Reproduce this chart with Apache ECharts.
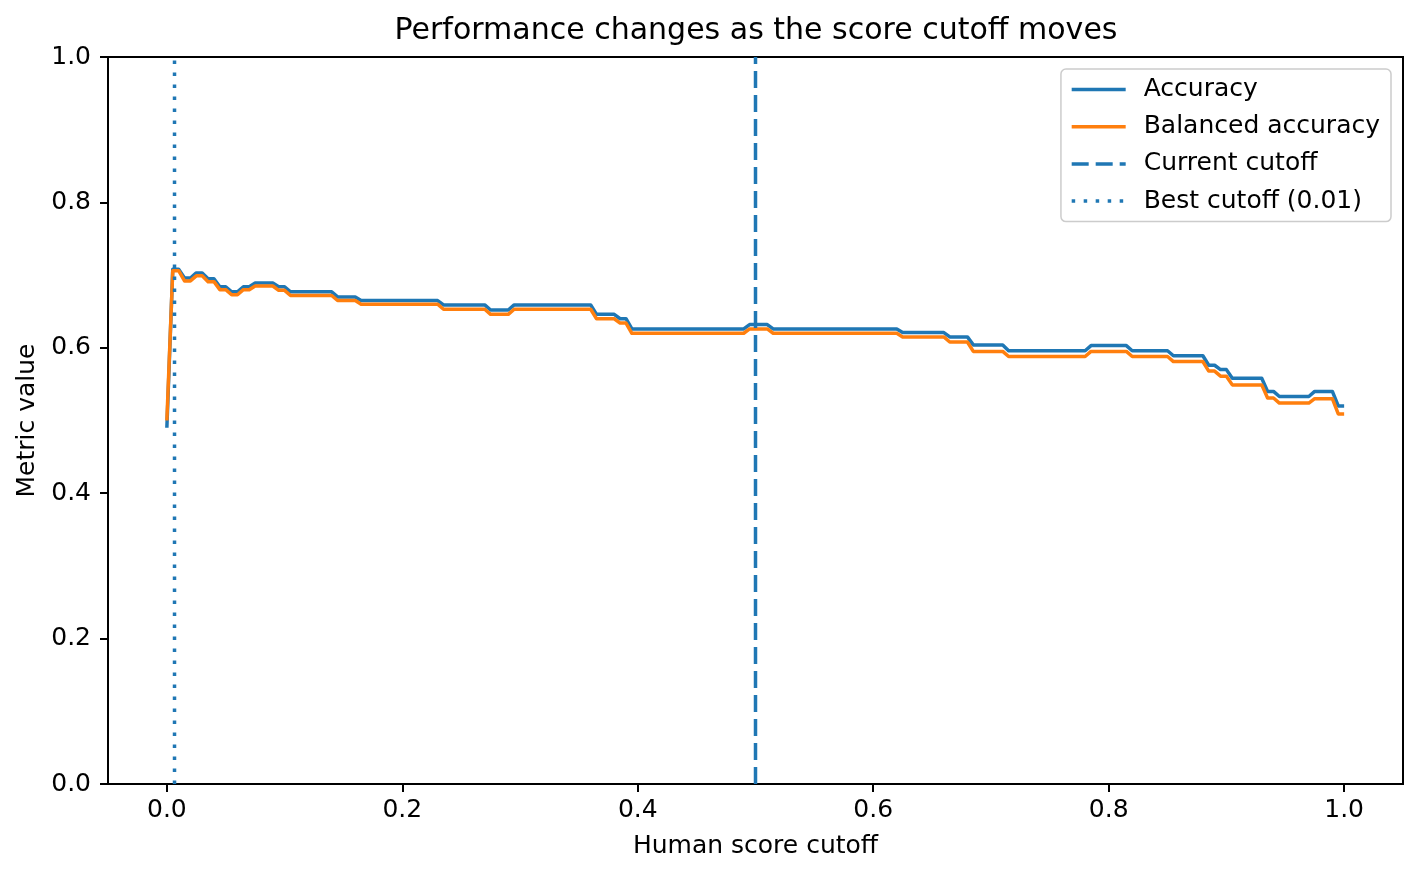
<!DOCTYPE html>
<html>
<head>
<meta charset="utf-8">
<script src="https://cdn.jsdelivr.net/npm/echarts@6/dist/echarts.min.js"></script>
<style>
  html, body { margin: 0; padding: 0; background: #fff; }
  #chart { width: 1421px; height: 877px; }
</style>
</head>
<body>
<div id="chart"></div>
<script>
// cutoff grid points where the curves change (corners of the step-like curves)
const cutoffs = [
  0.000, 0.005, 0.010, 0.015, 0.020, 0.025, 0.030, 0.035, 0.040, 0.045,
  0.050, 0.055, 0.060, 0.065, 0.070, 0.075, 0.090, 0.095, 0.100, 0.105,
  0.140, 0.145, 0.160, 0.165, 0.230, 0.235, 0.270, 0.275, 0.290, 0.295,
  0.360, 0.365, 0.380, 0.385, 0.390, 0.395, 0.490, 0.495, 0.510, 0.515,
  0.620, 0.625, 0.660, 0.665, 0.680, 0.685, 0.710, 0.715, 0.780, 0.785,
  0.815, 0.820, 0.850, 0.855, 0.880, 0.885, 0.890, 0.895, 0.900, 0.905,
  0.930, 0.935, 0.940, 0.945, 0.970, 0.975, 0.990, 0.995, 1.000
];
const accuracy = [
  0.490, 0.708, 0.708, 0.696, 0.696, 0.703, 0.703, 0.695, 0.695, 0.684,
  0.684, 0.677, 0.677, 0.684, 0.684, 0.689, 0.689, 0.684, 0.684, 0.677,
  0.677, 0.670, 0.670, 0.665, 0.665, 0.659, 0.659, 0.652, 0.652, 0.659,
  0.659, 0.646, 0.646, 0.640, 0.640, 0.626, 0.626, 0.632, 0.632, 0.626,
  0.626, 0.621, 0.621, 0.615, 0.615, 0.604, 0.604, 0.596, 0.596, 0.603,
  0.603, 0.596, 0.596, 0.589, 0.589, 0.576, 0.576, 0.570, 0.570, 0.558,
  0.558, 0.540, 0.540, 0.533, 0.533, 0.540, 0.540, 0.520, 0.520
];
const balancedAccuracy = [
  0.500, 0.706, 0.706, 0.692, 0.692, 0.699, 0.699, 0.691, 0.691, 0.680,
  0.680, 0.673, 0.673, 0.680, 0.680, 0.685, 0.685, 0.679, 0.679, 0.672,
  0.672, 0.665, 0.665, 0.660, 0.660, 0.653, 0.653, 0.646, 0.646, 0.653,
  0.653, 0.640, 0.640, 0.634, 0.634, 0.620, 0.620, 0.626, 0.626, 0.620,
  0.620, 0.615, 0.615, 0.608, 0.608, 0.595, 0.595, 0.588, 0.588, 0.595,
  0.595, 0.588, 0.588, 0.581, 0.581, 0.568, 0.568, 0.561, 0.561, 0.549,
  0.549, 0.531, 0.531, 0.524, 0.524, 0.530, 0.530, 0.509, 0.509
];
const currentCutoff = 0.5;
const bestCutoff = 0.0065;
const xTicks = [0.0, 0.2, 0.4, 0.6, 0.8, 1.0];

const BLUE = '#1f77b4';
const ORANGE = '#ff7f0e';
const FONT = 'DejaVu Sans';

const chart = echarts.init(document.getElementById('chart'));

const pairs = (xs, ys) => xs.map((x, i) => [x, ys[i]]);

chart.setOption({
  animation: false,
  backgroundColor: '#fff',
  textStyle: { fontFamily: FONT, color: '#000' },
  title: {
    text: 'Performance changes as the score cutoff moves',
    left: 756,
    top: 16,
    padding: 0,
    textAlign: 'center',
    textStyle: { fontFamily: FONT, fontSize: 30, fontWeight: 'normal', color: '#000' }
  },
  legend: {
    orient: 'vertical',
    right: 30,
    top: 69,
    padding: [8, 11, 8, 9],
    itemGap: 12.2,
    itemWidth: 54,
    itemHeight: 24,
    backgroundColor: 'rgba(255,255,255,0.8)',
    borderColor: '#cccccc',
    borderWidth: 1.5,
    borderRadius: 5,
    itemStyle: { opacity: 0 },
    lineStyle: { width: 3.5 },
    textStyle: { fontFamily: FONT, fontSize: 25, color: '#000', padding: [0, 0, 0, 13] },
    data: ['Accuracy', 'Balanced accuracy', 'Current cutoff', 'Best cutoff (0.01)']
  },
  grid: {
    left: 108, right: 18, top: 57, bottom: 93,
    show: true, borderColor: '#000', borderWidth: 2
  },
  xAxis: {
    type: 'value',
    min: -0.05,
    max: 1.05,
    name: 'Human score cutoff',
    nameLocation: 'middle',
    nameGap: 50,
    nameTextStyle: { fontFamily: FONT, fontSize: 25, color: '#000' },
    axisLine: { show: true, onZero: false, lineStyle: { color: '#000', width: 2 } },
    axisTick: { show: true, length: 8, lineStyle: { color: '#000', width: 2 }, customValues: xTicks },
    axisLabel: {
      fontFamily: FONT, fontSize: 25, color: '#000', margin: 14,
      customValues: xTicks,
      formatter: v => v.toFixed(1)
    },
    splitLine: { show: false }
  },
  yAxis: {
    type: 'value',
    min: 0,
    max: 1,
    interval: 0.2,
    name: 'Metric value',
    nameLocation: 'middle',
    nameGap: 68,
    nameTextStyle: { fontFamily: FONT, fontSize: 25, color: '#000' },
    axisLine: { show: true, onZero: false, lineStyle: { color: '#000', width: 2 } },
    axisTick: { show: true, length: 8, lineStyle: { color: '#000', width: 2 } },
    axisLabel: {
      fontFamily: FONT, fontSize: 25, color: '#000', margin: 17,
      formatter: v => v.toFixed(1)
    },
    splitLine: { show: false }
  },
  series: [
    {
      name: 'Accuracy',
      type: 'line',
      data: pairs(cutoffs, accuracy),
      symbol: 'none',
      lineStyle: { color: BLUE, width: 3.5, join: 'round' },
      itemStyle: { color: BLUE }
    },
    {
      name: 'Balanced accuracy',
      type: 'line',
      data: pairs(cutoffs, balancedAccuracy),
      symbol: 'none',
      lineStyle: { color: ORANGE, width: 3.5, join: 'round' },
      itemStyle: { color: ORANGE }
    },
    {
      name: 'Current cutoff',
      type: 'line',
      data: [[currentCutoff, 0], [currentCutoff, 1]],
      symbol: 'none',
      lineStyle: { color: BLUE, width: 3.5, type: [17, 7] },
      itemStyle: { color: BLUE }
    },
    {
      name: 'Best cutoff (0.01)',
      type: 'line',
      data: [[bestCutoff, 0], [bestCutoff, 1]],
      symbol: 'none',
      lineStyle: { color: BLUE, width: 3.5, type: [3.5, 8.5] },
      itemStyle: { color: BLUE }
    }
  ]
});
</script>
</body>
</html>
